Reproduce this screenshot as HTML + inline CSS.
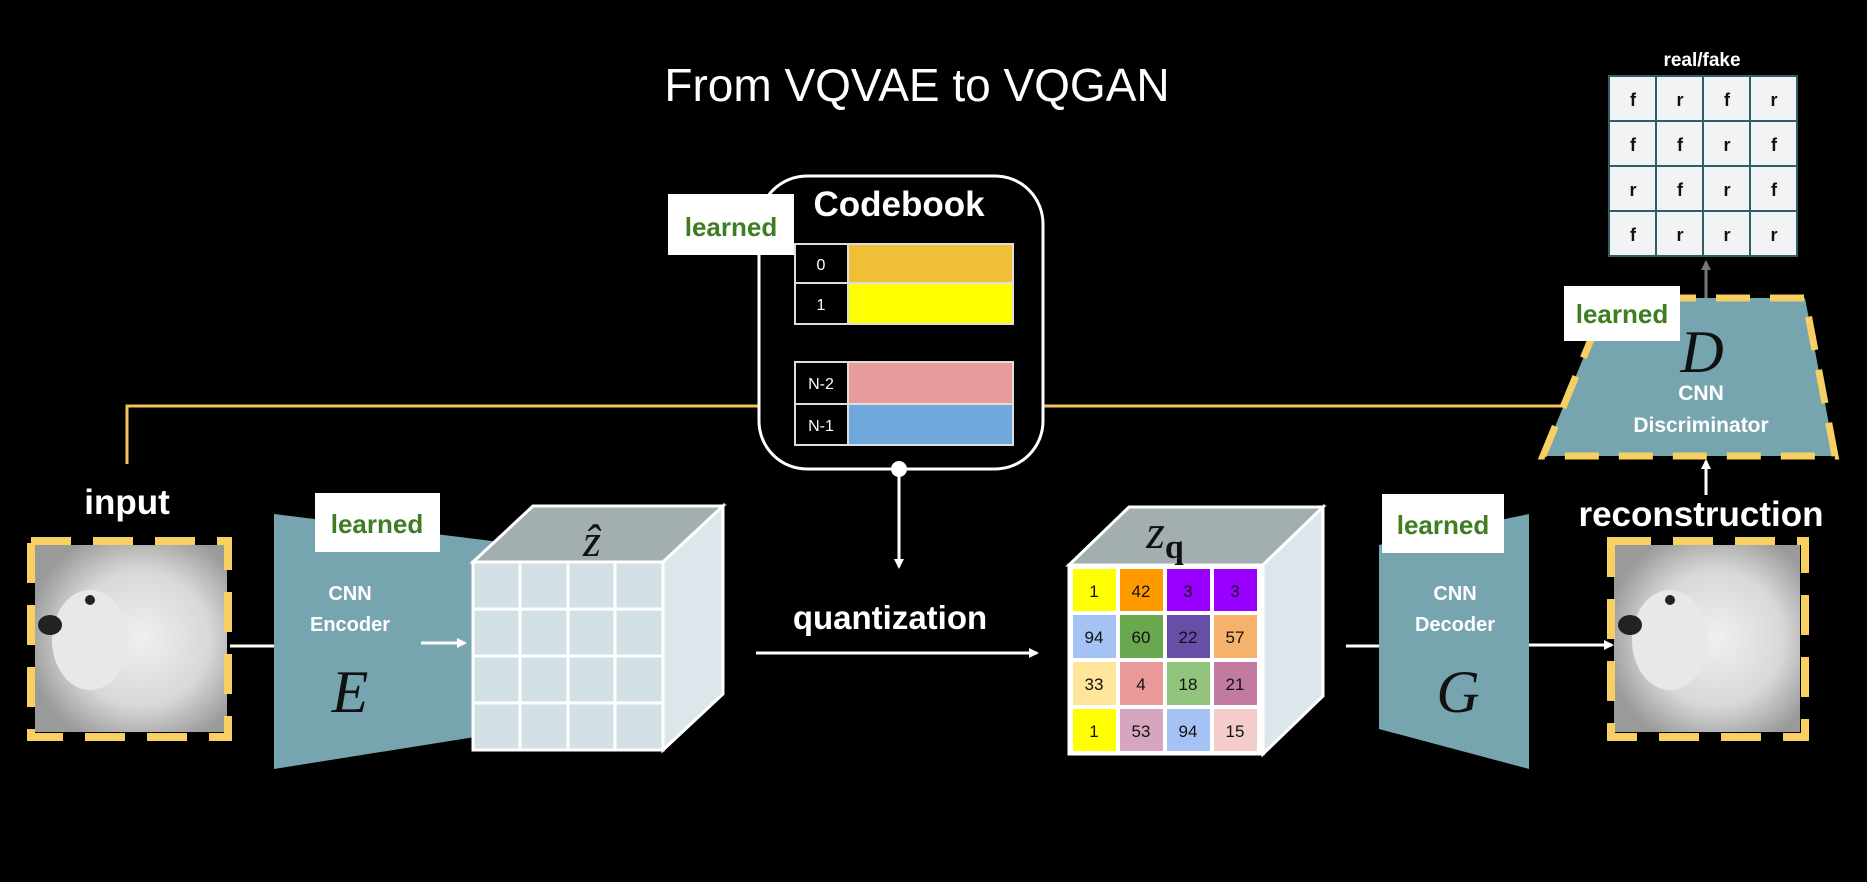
<!DOCTYPE html>
<html><head><meta charset="utf-8"><style>
html,body{margin:0;padding:0;background:#000;}
svg{display:block;}
text{font-family:"Liberation Sans",sans-serif;}
</style></head><body>
<svg width="1867" height="882" viewBox="0 0 1867 882" xmlns="http://www.w3.org/2000/svg">
<defs>
<marker id="aw" markerWidth="10" markerHeight="10" refX="8" refY="5" orient="auto" markerUnits="userSpaceOnUse"><path d="M0,0 L10,5 L0,10 z" fill="#fff"/></marker>
<marker id="ag" markerWidth="10" markerHeight="10" refX="8" refY="5" orient="auto" markerUnits="userSpaceOnUse"><path d="M0,0 L10,5 L0,10 z" fill="#777"/></marker>
<radialGradient id="dog" cx="55%" cy="50%" r="60%"><stop offset="0" stop-color="#f0f0f0"/><stop offset="0.6" stop-color="#d8d8d8"/><stop offset="1" stop-color="#9a9a9a"/></radialGradient>
</defs>
<rect width="1867" height="882" fill="#000"/>
<text x="917" y="101" font-size="46" fill="#fff" text-anchor="middle">From VQVAE to VQGAN</text>

<polyline points="127,464 127,406 1600,406" fill="none" stroke="#f2c55c" stroke-width="3"/>

<rect x="759" y="176" width="284" height="293" rx="48" fill="#000" stroke="#fff" stroke-width="3"/>
<text x="899" y="216" font-size="35" font-weight="bold" fill="#fff" text-anchor="middle">Codebook</text>
<g stroke="#ddd" stroke-width="2">
<rect x="795" y="244" width="53" height="39" fill="#000"/><rect x="848" y="244" width="165" height="39" fill="#f0bf36"/>
<rect x="795" y="283" width="53" height="41" fill="#000"/><rect x="848" y="283" width="165" height="41" fill="#ffff00"/>
<rect x="795" y="362" width="53" height="42" fill="#000"/><rect x="848" y="362" width="165" height="42" fill="#e99a9b"/>
<rect x="795" y="404" width="53" height="41" fill="#000"/><rect x="848" y="404" width="165" height="41" fill="#6fa8dc"/>
</g>
<g fill="#fff" font-size="16" text-anchor="middle">
<text x="821" y="270">0</text><text x="821" y="310">1</text><text x="821" y="389">N-2</text><text x="821" y="431">N-1</text>
</g>
<rect x="668" y="194" width="126" height="61" fill="#fff"/>
<text x="731" y="236" font-size="26" font-weight="bold" fill="#3e7d22" text-anchor="middle">learned</text>
<circle cx="899" cy="469" r="8" fill="#fff"/>
<line x1="899" y1="469" x2="899" y2="567" stroke="#fff" stroke-width="3" marker-end="url(#aw)"/>
<text x="890" y="629" font-size="33" font-weight="bold" fill="#fff" text-anchor="middle">quantization</text>
<line x1="756" y1="653" x2="1037" y2="653" stroke="#fff" stroke-width="3" marker-end="url(#aw)"/>

<text x="127" y="514" font-size="35" font-weight="bold" fill="#fff" text-anchor="middle">input</text>
<rect x="35" y="545" width="192" height="187" fill="url(#dog)"/>
<ellipse cx="90" cy="640" rx="38" ry="50" fill="#e8e8e8"/><ellipse cx="50" cy="625" rx="12" ry="10" fill="#222"/><circle cx="90" cy="600" r="5" fill="#222"/>
<rect x="31" y="541" width="197" height="196" fill="none" stroke="#f7cf62" stroke-width="8" stroke-dasharray="40,22"/>
<line x1="230" y1="646" x2="276" y2="646" stroke="#fff" stroke-width="3"/>

<polygon points="274,514 500,542 500,733 274,769" fill="#76a5af"/>
<rect x="315" y="493" width="125" height="59" fill="#fff"/>
<text x="377" y="533" font-size="26" font-weight="bold" fill="#3e7d22" text-anchor="middle">learned</text>
<text x="350" y="600" font-size="20" font-weight="bold" fill="#fff" text-anchor="middle">CNN</text>
<text x="350" y="631" font-size="20" font-weight="bold" fill="#fff" text-anchor="middle">Encoder</text>
<text x="350" y="712" font-size="60" fill="#111" text-anchor="middle" style="font-family:'Liberation Serif',serif;font-style:italic">E</text>
<line x1="421" y1="643" x2="465" y2="643" stroke="#fff" stroke-width="3" marker-end="url(#aw)"/>

<g stroke="#fff" stroke-width="3">
<polygon points="473,562 533,506 723,506 663,562" fill="#a3aeb1"/>
<polygon points="663,562 723,506 723,694 663,750" fill="#dde6ea"/>
<rect x="473" y="562" width="190" height="188" fill="#d3e0e5"/>
<line x1="520" y1="562" x2="520" y2="750"/><line x1="568" y1="562" x2="568" y2="750"/><line x1="615" y1="562" x2="615" y2="750"/>
<line x1="473" y1="609" x2="663" y2="609"/><line x1="473" y1="656" x2="663" y2="656"/><line x1="473" y1="703" x2="663" y2="703"/>
</g>
<text x="592" y="556" font-size="46" fill="#111" text-anchor="middle" style="font-family:'Liberation Serif',serif;font-style:italic">ẑ</text>

<g stroke="#fff" stroke-width="3">
<polygon points="1069,565 1129,507 1323,507 1263,565" fill="#a3aeb1"/>
<polygon points="1263,565 1323,507 1323,696 1263,754" fill="#dde6ea"/>
<rect x="1069" y="565" width="194" height="189" fill="#fff"/>
</g>
<text x="1165" y="548" font-size="48" fill="#111" text-anchor="middle" style="font-family:'Liberation Serif',serif;font-style:italic">z<tspan style="font-style:normal" font-weight="bold" font-size="34" dy="10">q</tspan></text>
<g font-size="17" fill="#111" text-anchor="middle">
<rect x="1073" y="569" width="43" height="42" fill="#ffff00"/><text x="1094" y="597">1</text>
<rect x="1120" y="569" width="43" height="42" fill="#ff9900"/><text x="1141" y="597">42</text>
<rect x="1167" y="569" width="43" height="42" fill="#9900ff"/><text x="1188" y="597">3</text>
<rect x="1214" y="569" width="43" height="42" fill="#9900ff"/><text x="1235" y="597">3</text>
<rect x="1073" y="615" width="43" height="43" fill="#a4c2f4"/><text x="1094" y="643">94</text>
<rect x="1120" y="615" width="43" height="43" fill="#6aa84f"/><text x="1141" y="643">60</text>
<rect x="1167" y="615" width="43" height="43" fill="#674ea7"/><text x="1188" y="643">22</text>
<rect x="1214" y="615" width="43" height="43" fill="#f6b26b"/><text x="1235" y="643">57</text>
<rect x="1073" y="662" width="43" height="43" fill="#ffe599"/><text x="1094" y="690">33</text>
<rect x="1120" y="662" width="43" height="43" fill="#ea9999"/><text x="1141" y="690">4</text>
<rect x="1167" y="662" width="43" height="43" fill="#93c47d"/><text x="1188" y="690">18</text>
<rect x="1214" y="662" width="43" height="43" fill="#c27ba0"/><text x="1235" y="690">21</text>
<rect x="1073" y="709" width="43" height="42" fill="#ffff00"/><text x="1094" y="737">1</text>
<rect x="1120" y="709" width="43" height="42" fill="#d5a6bd"/><text x="1141" y="737">53</text>
<rect x="1167" y="709" width="43" height="42" fill="#a4c2f4"/><text x="1188" y="737">94</text>
<rect x="1214" y="709" width="43" height="42" fill="#f4cccc"/><text x="1235" y="737">15</text>
</g>

<line x1="1346" y1="646" x2="1381" y2="646" stroke="#fff" stroke-width="3"/>
<polygon points="1379,545 1529,514 1529,769 1379,729" fill="#76a5af"/>
<rect x="1382" y="494" width="122" height="59" fill="#fff"/>
<text x="1443" y="534" font-size="26" font-weight="bold" fill="#3e7d22" text-anchor="middle">learned</text>
<text x="1455" y="600" font-size="20" font-weight="bold" fill="#fff" text-anchor="middle">CNN</text>
<text x="1455" y="631" font-size="20" font-weight="bold" fill="#fff" text-anchor="middle">Decoder</text>
<text x="1458" y="712" font-size="60" fill="#111" text-anchor="middle" style="font-family:'Liberation Serif',serif;font-style:italic">G</text>
<line x1="1529" y1="645" x2="1612" y2="645" stroke="#fff" stroke-width="3" marker-end="url(#aw)"/>

<text x="1701" y="526" font-size="35" font-weight="bold" fill="#fff" text-anchor="middle">reconstruction</text>
<rect x="1614" y="545" width="186" height="187" fill="url(#dog)"/>
<ellipse cx="1670" cy="640" rx="38" ry="50" fill="#e8e8e8"/><ellipse cx="1630" cy="625" rx="12" ry="10" fill="#222"/><circle cx="1670" cy="600" r="5" fill="#222"/>
<rect x="1611" y="541" width="194" height="196" fill="none" stroke="#f7cf62" stroke-width="8" stroke-dasharray="40,22"/>
<line x1="1706" y1="495" x2="1706" y2="461" stroke="#fff" stroke-width="3" marker-end="url(#aw)"/>

<polygon points="1608,298 1805,298 1835,456 1543,456" fill="#76a5af" stroke="#f7cf62" stroke-width="7" stroke-dasharray="34,20"/>
<line x1="1706" y1="298" x2="1706" y2="262" stroke="#777" stroke-width="3" marker-end="url(#ag)"/>
<rect x="1564" y="286" width="116" height="55" fill="#fff"/>
<text x="1622" y="323" font-size="26" font-weight="bold" fill="#3e7d22" text-anchor="middle">learned</text>
<text x="1702" y="372" font-size="60" fill="#111" text-anchor="middle" style="font-family:'Liberation Serif',serif;font-style:italic">D</text>
<text x="1701" y="400" font-size="21" font-weight="bold" fill="#fff" text-anchor="middle">CNN</text>
<text x="1701" y="432" font-size="21" font-weight="bold" fill="#fff" text-anchor="middle">Discriminator</text>

<text x="1702" y="66" font-size="19" font-weight="bold" fill="#fff" text-anchor="middle">real/fake</text>
<g stroke="#2f5f66" stroke-width="2" fill="#f2f3f4">
<rect x="1609" y="76" width="47" height="45"/><rect x="1656" y="76" width="47" height="45"/><rect x="1703" y="76" width="47" height="45"/><rect x="1750" y="76" width="47" height="45"/>
<rect x="1609" y="121" width="47" height="45"/><rect x="1656" y="121" width="47" height="45"/><rect x="1703" y="121" width="47" height="45"/><rect x="1750" y="121" width="47" height="45"/>
<rect x="1609" y="166" width="47" height="45"/><rect x="1656" y="166" width="47" height="45"/><rect x="1703" y="166" width="47" height="45"/><rect x="1750" y="166" width="47" height="45"/>
<rect x="1609" y="211" width="47" height="45"/><rect x="1656" y="211" width="47" height="45"/><rect x="1703" y="211" width="47" height="45"/><rect x="1750" y="211" width="47" height="45"/>
</g>
<g font-size="18" font-weight="bold" fill="#111" text-anchor="middle">
<text x="1633" y="106">f</text><text x="1680" y="106">r</text><text x="1727" y="106">f</text><text x="1774" y="106">r</text>
<text x="1633" y="151">f</text><text x="1680" y="151">f</text><text x="1727" y="151">r</text><text x="1774" y="151">f</text>
<text x="1633" y="196">r</text><text x="1680" y="196">f</text><text x="1727" y="196">r</text><text x="1774" y="196">f</text>
<text x="1633" y="241">f</text><text x="1680" y="241">r</text><text x="1727" y="241">r</text><text x="1774" y="241">r</text>
</g>
</svg>
</body></html>
